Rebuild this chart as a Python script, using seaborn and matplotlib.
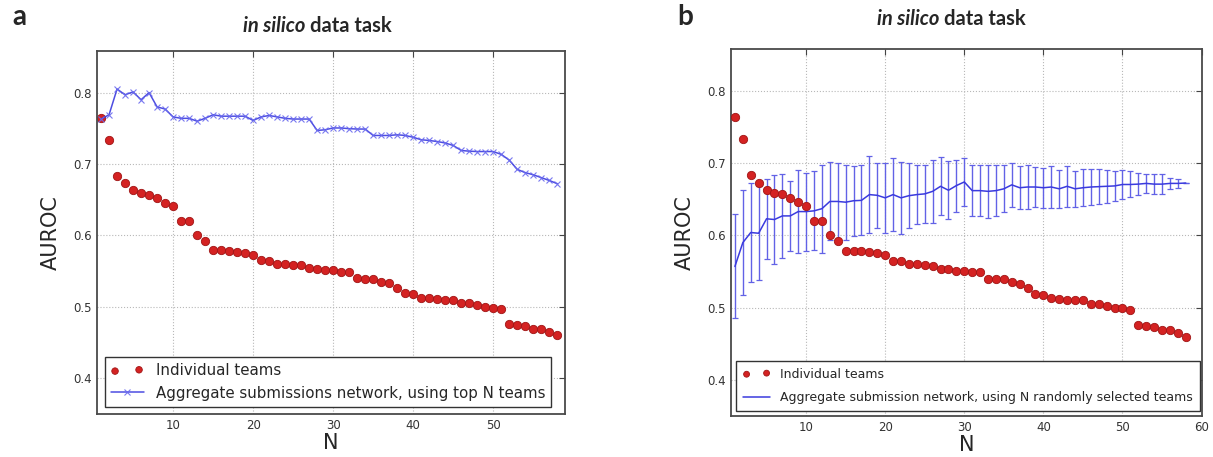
import numpy as np
import pandas as pd
import seaborn as sns
import matplotlib
matplotlib.use('Agg')
import matplotlib.pyplot as plt

# number of teams N (1..58)
n_teams = list(range(1, 59))

# AUROC of each individual team, ranked
individual = [0.764, 0.734, 0.683, 0.673, 0.663, 0.659, 0.657, 0.652, 0.646, 0.641,
              0.620, 0.620, 0.601, 0.592, 0.579, 0.579, 0.578, 0.577, 0.575, 0.573,
              0.565, 0.564, 0.560, 0.560, 0.559, 0.558, 0.554, 0.553, 0.551, 0.551,
              0.549, 0.549, 0.540, 0.539, 0.539, 0.535, 0.533, 0.527, 0.519, 0.518,
              0.513, 0.512, 0.511, 0.510, 0.510, 0.505, 0.505, 0.502, 0.500, 0.499,
              0.497, 0.476, 0.475, 0.473, 0.469, 0.469, 0.465, 0.460]

# aggregate network built from the top N teams
top_n = [0.763, 0.769, 0.805, 0.797, 0.801, 0.790, 0.800, 0.780, 0.777, 0.766,
         0.764, 0.764, 0.760, 0.764, 0.769, 0.767, 0.767, 0.767, 0.767, 0.761,
         0.766, 0.768, 0.766, 0.764, 0.763, 0.763, 0.763, 0.747, 0.748, 0.7505,
         0.7505, 0.7495, 0.749, 0.749, 0.740, 0.740, 0.740, 0.741, 0.740, 0.7375,
         0.734, 0.733, 0.7315, 0.7295, 0.726, 0.719, 0.718, 0.7175, 0.7175, 0.7175,
         0.7135, 0.7055, 0.6925, 0.688, 0.685, 0.681, 0.677, 0.6725]

# aggregate network from N randomly selected teams: mean and std
random_mean = [0.557, 0.590, 0.604, 0.603, 0.623, 0.622, 0.627, 0.627, 0.633, 0.633,
               0.634, 0.637, 0.647, 0.647, 0.646, 0.648, 0.6485, 0.6565, 0.6555, 0.652,
               0.6565, 0.652, 0.655, 0.6565, 0.6575, 0.661, 0.668, 0.6625, 0.669, 0.674,
               0.662, 0.662, 0.661, 0.662, 0.6645, 0.670, 0.666, 0.667, 0.667, 0.666,
               0.667, 0.6645, 0.668, 0.6645, 0.666, 0.667, 0.6675, 0.668, 0.6685, 0.6705,
               0.6705, 0.671, 0.672, 0.671, 0.671, 0.672, 0.672, 0.6725]
random_std = [0.072, 0.073, 0.068, 0.065, 0.055, 0.061, 0.0585, 0.049, 0.058, 0.054,
              0.0545, 0.061, 0.054, 0.053, 0.052, 0.0485, 0.0485, 0.053, 0.045, 0.0485,
              0.050, 0.050, 0.045, 0.041, 0.040, 0.044, 0.040, 0.040, 0.036, 0.033,
              0.0357, 0.035, 0.037, 0.035, 0.0327, 0.030, 0.030, 0.030, 0.028, 0.028,
              0.029, 0.026, 0.028, 0.025, 0.0255, 0.0255, 0.024, 0.0227, 0.021, 0.020,
              0.018, 0.015, 0.013, 0.014, 0.014, 0.0075, 0.0058, 0.0]

df = pd.DataFrame({'N': n_teams, 'individual': individual, 'top_n': top_n,
                   'rand_mean': random_mean, 'rand_std': random_std})

sns.set_style('whitegrid', {
    'axes.edgecolor': '#4a4a4a',
    'grid.color': '#b8b8b8',
    'grid.linestyle': ':',
    'xtick.direction': 'in',
    'ytick.direction': 'in',
    'xtick.top': True,
    'ytick.right': True,
    'xtick.color': '#444444',
    'ytick.color': '#444444',
})
plt.rcParams['font.family'] = ['DejaVu Sans']

red = '#d42222'
blue = '#3a3ade'

fig = plt.figure(figsize=(12.13, 4.57), dpi=100)
ax1 = fig.add_axes([0.080, 0.094, 0.386, 0.794])
ax2 = fig.add_axes([0.6026, 0.0897, 0.388, 0.803])

# panel a
sns.scatterplot(data=df, x='N', y='individual', ax=ax1, color=red, s=36,
                edgecolor='#a01515', linewidth=0.6, label='Individual teams', zorder=2)
sns.lineplot(data=df, x='N', y='top_n', ax=ax1, color=blue, lw=1.1, marker='x',
             markersize=4, markeredgewidth=0.8, markeredgecolor='#6a6aee', alpha=0.9,
             label='Aggregate submissions network, using top N teams', zorder=3)
leg1 = ax1.legend(loc='lower left', fontsize=10.8, scatterpoints=2,
                  fancybox=False, edgecolor='#333333', framealpha=1, borderaxespad=0.5,
                  handlelength=2.2)
leg1.legend_handles[0].set_sizes([22, 22])

# panel b
ax2.errorbar(df['N'], df['rand_mean'], yerr=df['rand_std'], fmt='none',
             ecolor='#6262e6', elinewidth=1.0, capsize=2.5, capthick=0.9, zorder=1)
sns.lineplot(data=df, x='N', y='rand_mean', ax=ax2, color=blue, lw=1.1,
             label='Aggregate submission network, using N randomly selected teams', zorder=2)
sns.scatterplot(data=df, x='N', y='individual', ax=ax2, color=red, s=36,
                edgecolor='#a01515', linewidth=0.6, label='Individual teams', zorder=3)
h, l = ax2.get_legend_handles_labels()
leg2 = ax2.legend(h[::-1], l[::-1], loc='lower left', fontsize=9.0, scatterpoints=2,
                  fancybox=False, edgecolor='#333333', framealpha=1,
                  borderaxespad=0.4, handlelength=2.2, labelspacing=0.85, borderpad=0.55)
leg2.legend_handles[0].set_sizes([18, 18])

for ax, xmax in ((ax1, 59), (ax2, 60)):
    ax.set_yticks([0.4, 0.5, 0.6, 0.7, 0.8])
    ax.set_xticks([10, 20, 30, 40, 50, 60])
    ax.set_ylim(0.35, 0.858)
    ax.set_xlim(0.5, xmax)
    ax.tick_params(labelsize=8.5, length=4, width=0.8, labelcolor='#333333')
    ax.grid(True, ls=':', lw=0.8, color='#b8b8b8')
    for sp in ax.spines.values():
        sp.set_linewidth(1.3)
    ax.set_xlabel('N', fontsize=15, labelpad=1)
    ax.set_ylabel('AUROC', fontsize=15, labelpad=9)

# titles with italic part
for x0, y0 in [(0.2003, 0.930), (0.723, 0.945)]:
    t1 = fig.text(x0, y0, 'in silico', family='Lato', fontsize=14.5,
                  weight='bold', style='italic', va='baseline', ha='left')
    fig.add_artist(plt.Annotation('data task', xy=(1, 0), xycoords=t1,
                                  xytext=(3.5, 0), textcoords='offset points',
                                  family='Lato', fontsize=14.5, weight='bold',
                                  va='bottom', ha='left'))

fig.text(0.010, 0.945, 'a', family='Lato', fontsize=20, weight='bold', va='baseline')
fig.text(0.558, 0.945, 'b', family='Lato', fontsize=20, weight='bold', va='baseline')

fig.savefig('out.png', dpi=100)
